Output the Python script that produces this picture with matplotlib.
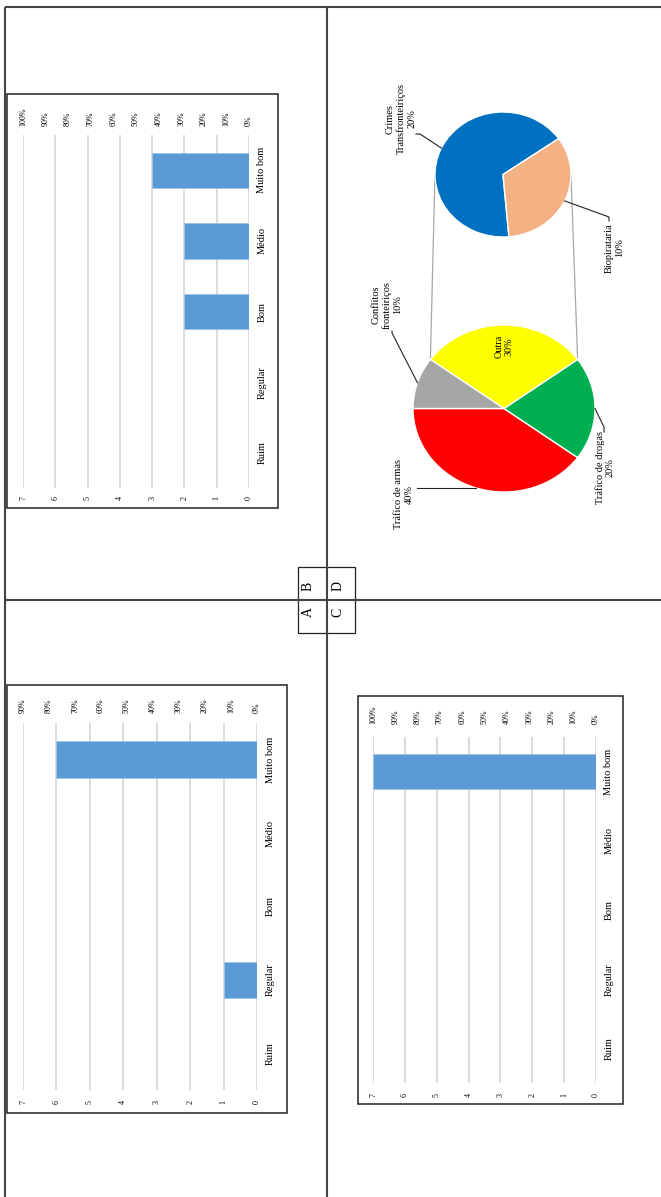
import numpy as np
import matplotlib
matplotlib.use("Agg")
import matplotlib.pyplot as plt
from matplotlib.patches import Rectangle, ConnectionPatch

plt.rcParams["font.family"] = ["Liberation Serif", "DejaVu Serif"]

# ---------------- data ----------------
categories = ["Ruim", "Regular", "Bom", "Médio", "Muito bom"]
count_ticks = [0, 1, 2, 3, 4, 5, 6, 7]
values_a = [0, 1, 0, 0, 6]
values_b = [0, 0, 2, 2, 3]
values_d = [0, 0, 0, 0, 7]
pct_max_a = 90
pct_max_b = 100
pct_max_d = 100

main_labels = ["Tráfico de armas", "Tráfico de drogas", "Outra", "Conflitos\nfronteiriços"]
main_values = [40, 20, 30, 10]
main_colors = ["#ff0000", "#00b050", "#ffff00", "#a6a6a6"]
sub_labels = ["Crimes\nTransfronteiriços", "Biopirataria"]
sub_values = [20, 10]
sub_colors = ["#0070c0", "#f4b183"]
panel_letters = ["A", "B", "C", "D"]

BAR_COLOR = "#5b9bd5"
GRID_COLOR = "#d9d9d9"

W, H = 661, 1197
fig = plt.figure(figsize=(W / 100, H / 100), dpi=100)
fig.patch.set_facecolor("white")


def rect(x0, y0, x1, y1):
    return [x0 / W, 1 - y1 / H, (x1 - x0) / W, (y1 - y0) / H]


# overlay in page pixel coordinates for frames, letters and pie labels
ov = fig.add_axes([0, 0, 1, 1], zorder=10)
ov.set_xlim(0, W)
ov.set_ylim(H, 0)
ov.axis("off")
ov.patch.set_visible(False)

# page grid lines
frame_kw = dict(color="#444444", lw=1.5, solid_capstyle="butt")
ov.plot([5, W], [7, 7], **frame_kw)
ov.plot([5, 5], [7, H], **frame_kw)
ov.plot([327, 327], [7, H], **frame_kw)
ov.plot([5, W], [600, 600], **frame_kw)

# letter key box
ov.add_patch(Rectangle((298, 567), 57, 66, fill=False, ec="#222222", lw=0.9))
for letter, (lx, ly) in zip(panel_letters, [(308, 612), (308, 586), (338, 612), (338, 586)]):
    ov.text(lx, ly, letter, rotation=90, ha="center", va="center", fontsize=10)


def bar_panel(values, pct_max, box, plot, pads):
    bx0, by0, bx1, by1 = box
    ov.add_patch(Rectangle((bx0, by0), bx1 - bx0, by1 - by0, fill=False,
                           ec="#222222", lw=1.1))
    ax = fig.add_axes(rect(*plot))
    ax.patch.set_visible(False)
    y = np.arange(len(categories))
    ax.barh(y, values, height=0.5, color=BAR_COLOR, edgecolor="#9dc3e6",
            lw=0.6, zorder=3)
    ax.set_xlim(max(count_ticks), 0)
    ax.set_ylim(-0.5, len(categories) - 0.5)
    ax.set_xticks(count_ticks)
    ax.set_xticklabels([str(t) for t in count_ticks], rotation=90, fontsize=5.8)
    ax.xaxis.grid(True, color=GRID_COLOR, lw=1.3, zorder=0)
    ax.set_axisbelow(True)
    ax.set_yticks(y)
    ax.set_yticklabels(categories, rotation=90, va="center", fontsize=7.5)
    ax.yaxis.tick_right()
    ax.tick_params(axis="x", length=0, pad=pads[0])
    ax.tick_params(axis="y", length=0, pad=pads[1])
    for s in ax.spines.values():
        s.set_visible(False)
    top = ax.twiny()
    top.patch.set_visible(False)
    top.set_xlim(pct_max, 0)
    pticks = list(range(0, pct_max + 1, 10))
    top.set_xticks(pticks)
    top.set_xticklabels([f"{p}%" for p in pticks], rotation=90, fontsize=5.8)
    top.tick_params(axis="x", length=0, pad=pads[2])
    for s in top.spines.values():
        s.set_visible(False)
    return ax


# A: bottom-left, B: top-left, D: bottom-right
bar_panel(values_a, pct_max_a, (7, 685, 287, 1113), (23, 723, 257, 1090), (7.5, 6.5, 7.0))
bar_panel(values_b, pct_max_b, (7, 94, 278, 508), (23, 135, 249, 488), (6.0, 6.0, 6.5))
bar_panel(values_d, pct_max_d, (358, 696, 623, 1104), (373, 737, 596, 1083), (7.5, 6.0, 9.0))

# ---------------- pie of pie ----------------
ax_m = fig.add_axes(rect(413, 325, 595, 492), zorder=5)
wm, _ = ax_m.pie(main_values, colors=main_colors, startangle=180, counterclock=True,
                 wedgeprops=dict(edgecolor="white", lw=1.0))
ax_m.set_aspect("auto")
ax_m.set_xlim(-1, 1)
ax_m.set_ylim(-1, 1)
for w in wm:
    w.set_clip_on(False)

ax_s = fig.add_axes(rect(435, 112, 571, 237), zorder=5)
ws, _ = ax_s.pie(sub_values, colors=sub_colors, startangle=35, counterclock=True,
                 wedgeprops=dict(edgecolor="white", lw=1.0))
ax_s.set_aspect("auto")
ax_s.set_xlim(-1, 1)
ax_s.set_ylim(-1, 1)
for w in ws:
    w.set_clip_on(False)

# connectors from the "Outra" wedge to the secondary pie
outra = wm[2]
for ang, sx in [(outra.theta1, 1.0), (outra.theta2, -1.0)]:
    a = np.deg2rad(ang)
    con = ConnectionPatch(xyA=(np.cos(a), np.sin(a)), coordsA=ax_m.transData,
                          xyB=(sx, 0), coordsB=ax_s.transData,
                          color="#a6a6a6", lw=0.9)
    fig.add_artist(con)


def to_px(ax, x, y):
    return ov.transData.inverted().transform(ax.transData.transform((x, y)))


def mid_point(w):
    a = np.deg2rad((w.theta1 + w.theta2) / 2)
    return np.cos(a), np.sin(a)


# "Outra" label inside its wedge
ax_m.text(0, 0.74, f"{main_labels[2]}\n{main_values[2]}%", rotation=90,
          ha="center", va="center", fontsize=7.3, multialignment="center")

# outside labels with leader lines: (wedge, axes, text, text centre, leader path)
leaders = [
    (wm[0], ax_m, f"{main_labels[0]}\n{main_values[0]}%", (404, 494), [(417, None)]),
    (wm[1], ax_m, f"{main_labels[1]}\n{main_values[1]}%", (605, 468), [(604, 427), (604, 432)]),
    (wm[3], ax_m, f"{main_labels[3]}\n{main_values[3]}%", (387, 305), [(392, 333), (392, 331)]),
    (ws[0], ax_s, f"{sub_labels[0]}\n{sub_values[0]}%", (401, 119), [(420, 134), (416, 134)]),
    (ws[1], ax_s, f"{sub_labels[1]}\n{sub_values[1]}%", (614, 248), [(609, 217), (609, 221)]),
]
for w, ax, txt, (tx, ty), path in leaders:
    px, py = to_px(ax, *mid_point(w))
    xs, ys = [px], [py]
    for qx, qy in path:
        xs.append(qx)
        ys.append(py if qy is None else qy)
    ov.plot(xs, ys, color="#222222", lw=0.8)
    ov.text(tx, ty, txt, rotation=90, ha="center", va="center", fontsize=7.5,
            multialignment="center")

fig.savefig("out.png", dpi=100, facecolor="white")
